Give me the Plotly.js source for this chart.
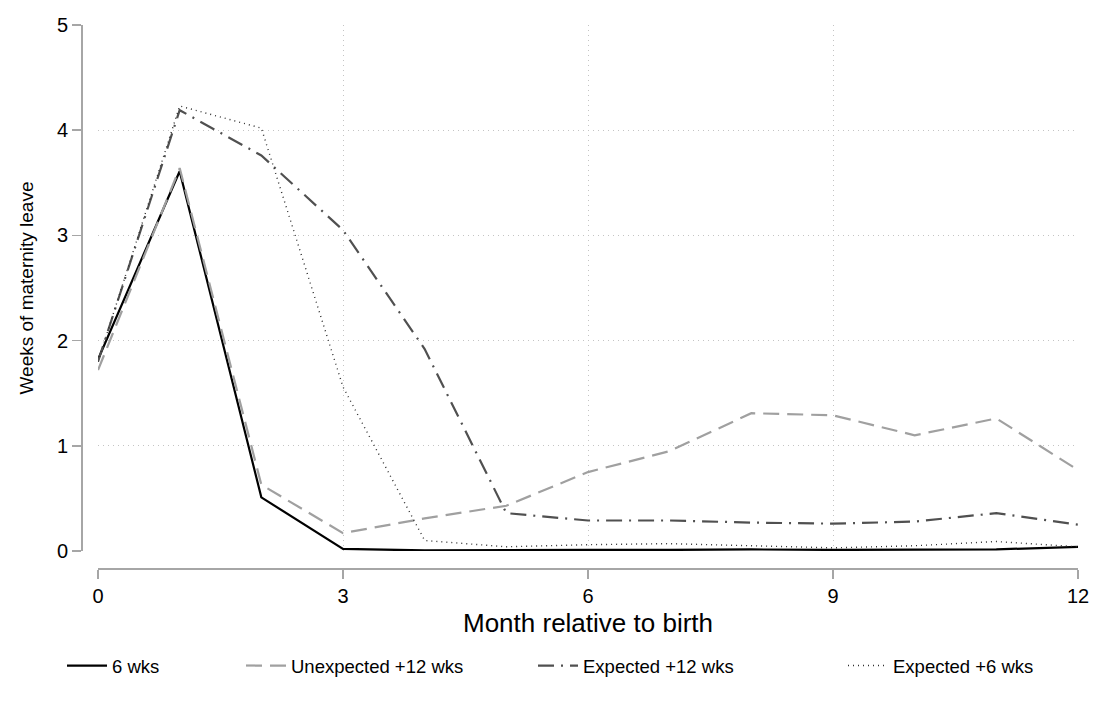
<!DOCTYPE html>
<html>
<head>
<meta charset="utf-8">
<script src="https://cdn.plot.ly/plotly-3.0.1.min.js"></script>
<style>html,body{margin:0;padding:0;background:#fff;}#chart{width:1099px;height:706px;}</style>
</head>
<body>
<div id="chart"></div>
<script>
const months = [0,1,2,3,4,5,6,7,8,9,10,11,12];
const sixWks        = [1.82,3.61,0.51,0.02,0.005,0.01,0.01,0.01,0.015,0.01,0.01,0.015,0.04];
const unexpected12  = [1.72,3.64,0.63,0.17,0.31,0.43,0.75,0.95,1.31,1.29,1.10,1.26,0.77];
const expected12    = [1.80,4.19,3.76,3.05,1.92,0.36,0.29,0.29,0.27,0.26,0.28,0.36,0.25];
const expected6     = [1.80,4.23,4.02,1.56,0.10,0.04,0.06,0.07,0.05,0.03,0.05,0.09,0.04];
const seriesNames   = ["6 wks","Unexpected +12 wks","Expected +12 wks","Expected +6 wks"];
const xTicks = [0,3,6,9,12];
const yTicks = [0,1,2,3,4,5];

const W = 1099, H = 706;
const FONT = "Liberation Sans, Arial, Helvetica, sans-serif";

const traces = [
  {x: months, y: sixWks, name: seriesNames[0], mode: "lines", legend: "legend",
   line: {color: "#000000", width: 2.2, dash: "solid"}},
  {x: months, y: unexpected12, name: seriesNames[1], mode: "lines", legend: "legend2",
   line: {color: "#a0a0a0", width: 2.2, dash: "16px,8px"}},
  {x: months, y: expected12, name: seriesNames[2], mode: "lines", legend: "legend3",
   line: {color: "#505050", width: 2.2, dash: "16px,7px,2px,7px"}},
  {x: months, y: expected6, name: seriesNames[3], mode: "lines", legend: "legend4",
   line: {color: "#303030", width: 1.4, dash: "1px,4px"}}
];

function legendAt(px) {
  return {
    orientation: "h", x: px / W, xanchor: "left", y: (H-666)/H, yanchor: "middle",
    font: {size: 18.5, family: FONT}, itemwidth: 40,
    bgcolor: "rgba(0,0,0,0)"
  };
}

const layout = {
  width: W, height: H,
  paper_bgcolor: "#ffffff", plot_bgcolor: "#ffffff",
  margin: {l: 0, r: 0, t: 0, b: 0},
  font: {family: FONT, color: "#000000", size: 20},
  showlegend: true,
  xaxis: {
    domain: [98/W, 1078/W],
    range: [0, 12],
    anchor: "free", position: (H-568)/H,
    tickvals: xTicks, ticktext: xTicks.map(String),
    showline: true, linecolor: "#a6a6a6", linewidth: 1.5,
    ticks: "outside", ticklen: 9, tickwidth: 1.5, tickcolor: "#a6a6a6",
    showgrid: true, gridcolor: "#c4c4c4", griddash: "1px,4px", gridwidth: 1,
    zeroline: false, automargin: false,
    tickfont: {size: 20, family: FONT},
    title: {text: "Month relative to birth", font: {size: 26, family: FONT}, standoff: 8}
  },
  yaxis: {
    domain: [(H-551)/H, (H-25)/H],
    range: [0, 5],
    anchor: "free", position: 81/W,
    tickvals: yTicks, ticktext: yTicks.map(String),
    showline: true, linecolor: "#a6a6a6", linewidth: 1.5,
    ticks: "outside", ticklen: 9, tickwidth: 1.5, tickcolor: "#a6a6a6",
    showgrid: true, gridcolor: "#c4c4c4", griddash: "1px,4px", gridwidth: 1,
    zeroline: false, automargin: false,
    tickfont: {size: 20, family: FONT},
    title: {text: "Weeks of maternity leave", font: {size: 19, family: FONT}, standoff: 16}
  },
  legend: legendAt(62),
  legend2: legendAt(241),
  legend3: legendAt(533),
  legend4: legendAt(843)
};

Plotly.newPlot("chart", traces, layout, {displayModeBar: false, staticPlot: true});
</script>
</body>
</html>
